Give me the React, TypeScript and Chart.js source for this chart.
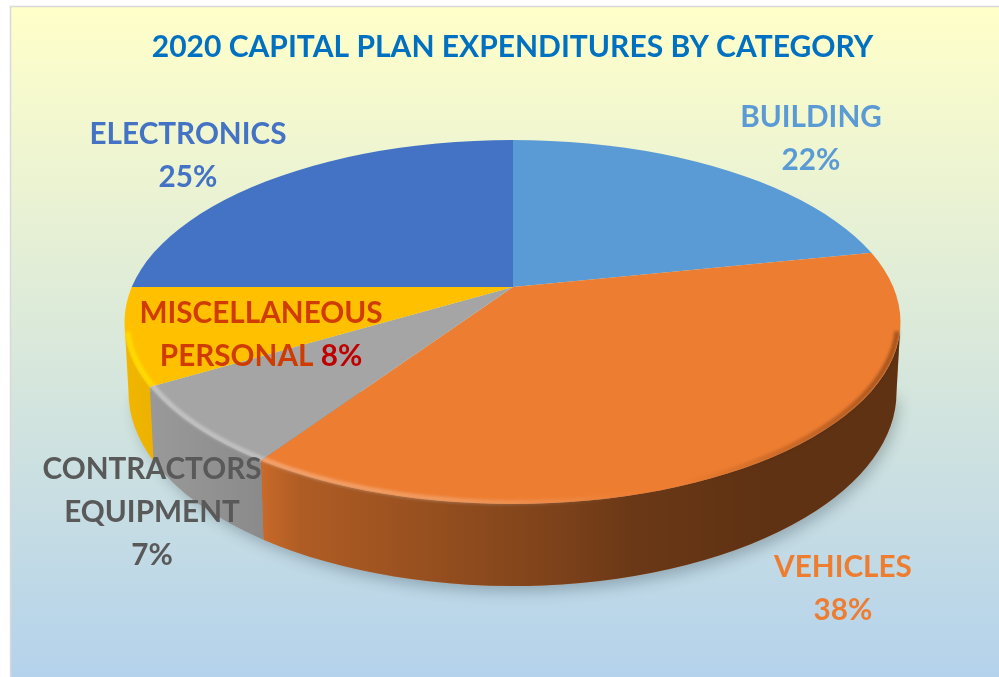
import React, { useEffect, useRef } from "react";
import { Chart, registerables } from "chart.js";

Chart.register(...registerables);

const TITLE = "2020 CAPITAL PLAN EXPENDITURES BY CATEGORY";
const categories = ["BUILDING", "VEHICLES", "CONTRACTORS\nEQUIPMENT", "MISCELLANEOUS\nPERSONAL", "ELECTRONICS"];
const values = [22, 38, 7, 8, 25];
const sliceColors = ["#5b9bd5", "#ed7d31", "#a5a5a5", "#ffc000", "#4472c4"];

const FONT = "Lato";
const TITLE_SIZE = 30;
const LABEL_SIZE = 29.7;
// label placement and colour, one entry per category
const labelSpots = [
  { x: 811, y: 117.5, color: "#5b9bd5" },
  { x: 843, y: 567.5, color: "#ed7d31" },
  { x: 152, y: 469.5, color: "#595959" },
  { x: 261, y: 313.5, color: "#d03c00", pct: "#c00000", inline: true },
  { x: 188, y: 134.5, color: "#4472c4" },
];
const LINE_GAP = 43;

// projected geometry of the tilted disc
const APEX = { x: 513, y: 287 };
const TILT = 0.5;
const TOP = { cx: 512.5, cy: 322, rx: 388, ry: 182 };
const BASE = { cx: 512.5, cy: 392, rx: 384, ry: 194 };

function rayToParam(angle: number) {
  const dx = Math.cos(angle);
  const dy = Math.sin(angle) * TILT;
  const ox = APEX.x - TOP.cx;
  const oy = APEX.y - TOP.cy;
  const a = (dx * dx) / (TOP.rx * TOP.rx) + (dy * dy) / (TOP.ry * TOP.ry);
  const b = 2 * ((ox * dx) / (TOP.rx * TOP.rx) + (oy * dy) / (TOP.ry * TOP.ry));
  const c = (ox * ox) / (TOP.rx * TOP.rx) + (oy * oy) / (TOP.ry * TOP.ry) - 1;
  const k = (-b + Math.sqrt(b * b - 4 * a * c)) / (2 * a);
  let t = Math.atan2((oy + k * dy) / TOP.ry, (ox + k * dx) / TOP.rx);
  if (t < 0) t += Math.PI * 2;
  return t;
}

function frontRange(arc: any): [number, number] | null {
  let t0 = rayToParam(arc.startAngle);
  const t1 = rayToParam(arc.endAngle);
  if (t1 < t0) t0 -= Math.PI * 2;
  const a = Math.max(t0, 0);
  const b = Math.min(t1, Math.PI);
  return a < b ? [a, b] : null;
}

const backdrop = {
  id: "backdrop",
  beforeDraw(chart: any) {
    const { ctx, width, height } = chart;
    ctx.save();
    ctx.fillStyle = "#ffffff";
    ctx.fillRect(0, 0, width, height);
    const g = ctx.createLinearGradient(0, 7, 0, height);
    g.addColorStop(0, "#ffffc9");
    g.addColorStop(1, "#b4d2ec");
    ctx.fillStyle = g;
    ctx.fillRect(11, 7, width - 11, height - 7);
    ctx.strokeStyle = "#d9d9d9";
    ctx.lineWidth = 1.5;
    ctx.beginPath();
    ctx.moveTo(10.5, height);
    ctx.lineTo(10.5, 6.5);
    ctx.lineTo(width, 6.5);
    ctx.stroke();
    ctx.restore();
  },
};

const disc = {
  id: "disc",
  beforeDatasetsDraw(chart: any) {
    const { ctx } = chart;
    const arcs = chart.getDatasetMeta(0).data;

    // soft shadow under the disc
    ctx.save();
    ctx.shadowColor = "rgba(40,60,70,0.3)";
    ctx.shadowBlur = 14;
    ctx.shadowOffsetY = 7;
    ctx.shadowOffsetX = 4;
    ctx.fillStyle = "#8a8a8a";
    ctx.beginPath();
    ctx.ellipse(BASE.cx, BASE.cy, BASE.rx - 2, BASE.ry - 1, 0, 0, Math.PI);
    ctx.closePath();
    ctx.fill();
    ctx.restore();

    // side wall of each slice
    const shade = ctx.createLinearGradient(124, 0, 901, 0);
    shade.addColorStop(0, "rgba(0,0,0,0.05)");
    shade.addColorStop(0.178, "rgba(0,0,0,0.16)");
    shade.addColorStop(0.226, "rgba(0,0,0,0.26)");
    shade.addColorStop(0.565, "rgba(0,0,0,0.48)");
    shade.addColorStop(0.65, "rgba(0,0,0,0.55)");
    shade.addColorStop(0.82, "rgba(0,0,0,0.6)");
    shade.addColorStop(1, "rgba(0,0,0,0.6)");
    arcs.forEach((arc: any, i: number) => {
      const range = frontRange(arc);
      if (!range) return;
      const [a, b] = range;
      const wall = new Path2D();
      wall.ellipse(TOP.cx, TOP.cy, TOP.rx, TOP.ry, 0, a, b);
      wall.ellipse(BASE.cx, BASE.cy, BASE.rx, BASE.ry, 0, b, a, true);
      wall.closePath();
      ctx.save();
      ctx.fillStyle = sliceColors[i];
      ctx.fill(wall);
      ctx.fillStyle = shade;
      ctx.fill(wall);
      ctx.restore();
    });

    // top face: the pie arcs squashed and clipped to the ellipse
    const first = arcs[0];
    ctx.save();
    ctx.beginPath();
    ctx.ellipse(TOP.cx, TOP.cy, TOP.rx, TOP.ry, 0, 0, Math.PI * 2);
    ctx.clip();
    ctx.translate(APEX.x, APEX.y);
    ctx.scale(1, TILT);
    ctx.translate(-first.x, -first.y);
  },
  afterDatasetsDraw(chart: any) {
    const { ctx } = chart;
    ctx.restore();
    const arcs = chart.getDatasetMeta(0).data;

    // bevel along the front rim
    const rim = ctx.createLinearGradient(124, 0, 901, 0);
    rim.addColorStop(0, "rgba(255,255,255,0.36)");
    rim.addColorStop(0.42, "rgba(255,255,255,0.22)");
    rim.addColorStop(0.66, "rgba(255,255,255,0)");
    rim.addColorStop(0.72, "rgba(50,20,0,0)");
    rim.addColorStop(1, "rgba(50,20,0,0.4)");
    arcs.forEach((arc: any, i: number) => {
      const range = frontRange(arc);
      if (!range) return;
      ctx.save();
      ctx.filter = "blur(1.5px)";
      ctx.strokeStyle = sliceColors[i] === "#ffc000" ? "#ffdc00" : rim;
      ctx.lineWidth = 5;
      ctx.beginPath();
      ctx.ellipse(TOP.cx, TOP.cy - 1.5, TOP.rx - 2.5, TOP.ry, 0, Math.max(range[0], 0.06), Math.min(range[1], 3.08));
      ctx.stroke();
      ctx.restore();
    });
  },
};

const sliceLabels = {
  id: "sliceLabels",
  afterDraw(chart: any) {
    const { ctx } = chart;
    ctx.save();
    ctx.font = `bold ${LABEL_SIZE}px ${FONT}`;
    ctx.textBaseline = "middle";
    ctx.textAlign = "left";
    categories.forEach((cat, i) => {
      const spot = labelSpots[i];
      const pct = `${values[i]}%`;
      const lines = cat.split("\n");
      const drawCentered = (parts: { s: string; c: string }[], y: number) => {
        const total = parts.reduce((w, p) => w + ctx.measureText(p.s).width, 0);
        let x = spot.x - total / 2;
        parts.forEach((p) => {
          ctx.fillStyle = p.c;
          ctx.fillText(p.s, x, y);
          x += ctx.measureText(p.s).width;
        });
      };
      let y = spot.y;
      lines.forEach((line, j) => {
        const last = j === lines.length - 1;
        if (last && spot.inline) {
          drawCentered([{ s: `${line} `, c: spot.color }, { s: pct, c: spot.pct || spot.color }], y);
        } else {
          drawCentered([{ s: line, c: spot.color }], y);
        }
        y += LINE_GAP;
      });
      if (!spot.inline) drawCentered([{ s: pct, c: spot.color }], y);
    });
    ctx.restore();
  },
};

export default function App() {
  const ref = useRef<HTMLCanvasElement>(null);
  useEffect(() => {
    document.body.style.margin = "0";
    const chart = new Chart(ref.current!, {
      type: "pie",
      data: {
        labels: categories,
        datasets: [
          {
            data: values,
            backgroundColor: sliceColors,
            borderWidth: 0,
            clip: false,
          } as any,
        ],
      },
      options: {
        animation: false,
        responsive: false,
        events: [],
        radius: 620,
        layout: { padding: { left: 26 } },
        plugins: {
          legend: { display: false },
          tooltip: { enabled: false },
          title: {
            display: true,
            text: TITLE,
            color: "#0070c0",
            font: { family: FONT, size: TITLE_SIZE, weight: "bold" },
            padding: { top: 29, bottom: 10 },
          },
        },
      } as any,
      plugins: [backdrop, disc, sliceLabels],
    });
    return () => chart.destroy();
  }, []);
  return <canvas ref={ref} width={999} height={677} style={{ display: "block" }} />;
}
